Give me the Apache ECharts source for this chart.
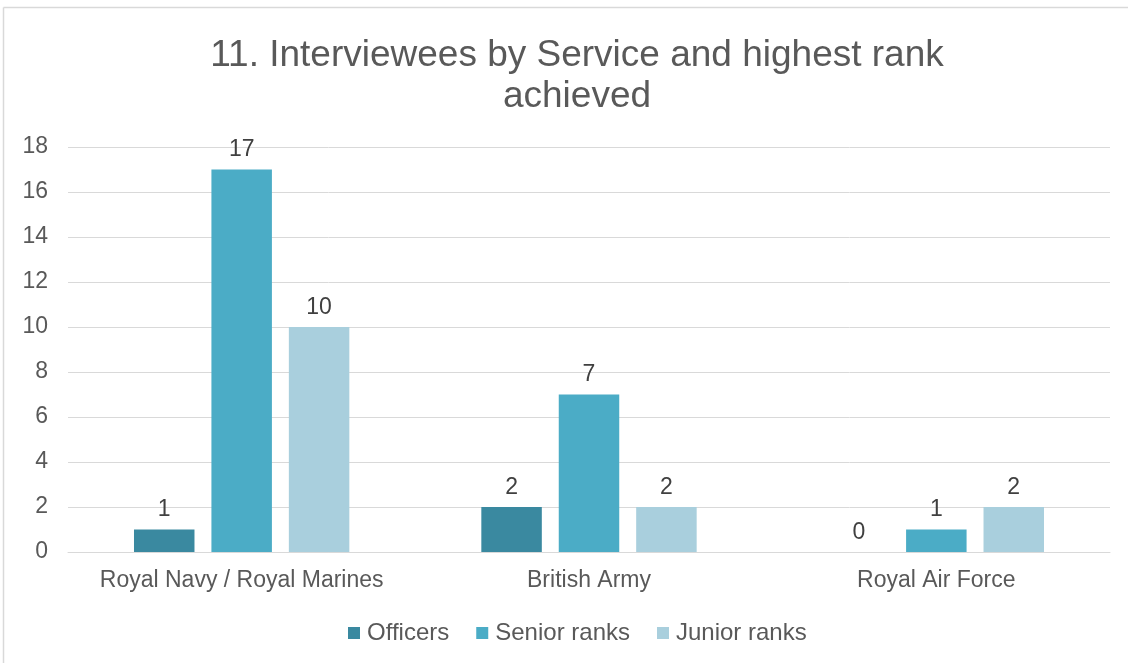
<!DOCTYPE html>
<html><head><meta charset="utf-8">
<script src="https://cdn.jsdelivr.net/npm/echarts@6/dist/echarts.min.js"></script>
<style>html,body{margin:0;padding:0;background:#fff}#c{width:1128px;height:663px}</style>
</head><body><div id="c"></div>
<script>
const categories = ['Royal Navy / Royal Marines', 'British Army', 'Royal Air Force'];
const officers = [1, 2, 0];
const seniorRanks = [17, 7, 1];
const juniorRanks = [10, 2, 2];
const seriesNames = ['Officers', 'Senior ranks', 'Junior ranks'];
const colors = ['#3A89A0', '#4BACC6', '#A9CFDD'];
const chart = echarts.init(document.getElementById('c'));
const font = 'Liberation Sans, Arial, sans-serif';
const label = {show: true, position: 'top', distance: 8, color: '#404040', fontSize: 23, fontFamily: font};
chart.setOption({
  animation: false,
  color: colors,
  title: {
    text: '11. Interviewees by Service and highest rank\nachieved',
    left: 572, top: 30, textAlign: 'center',
    textStyle: {fontFamily: font, fontSize: 37, fontWeight: 'normal', color: '#595959', lineHeight: 41}
  },
  legend: {
    top: 616, left: 343, itemWidth: 12, itemHeight: 12, itemGap: 27,
    icon: 'rect',
    textStyle: {fontFamily: font, fontSize: 24, color: '#595959', padding: [0, 0, 0, 2]}
  },
  grid: {left: 68, right: 18, top: 147, bottom: 111, containLabel: false},
  xAxis: {
    type: 'category', data: categories,
    axisLine: {lineStyle: {color: '#D9D9D9', width: 1}},
    axisTick: {show: false},
    axisLabel: {color: '#595959', fontSize: 23, fontFamily: font, margin: 17, interval: 0}
  },
  yAxis: {
    type: 'value', min: 0, max: 18, interval: 2,
    axisLine: {show: false}, axisTick: {show: false},
    axisLabel: {color: '#595959', fontSize: 23, fontFamily: font, margin: 20},
    splitLine: {lineStyle: {color: '#D9D9D9', width: 1}}
  },
  graphic: [
    {type: 'line', shape: {x1: 3.5, y1: 7.5, x2: 3.5, y2: 663}, style: {stroke: '#D9D9D9', lineWidth: 1.5}},
    {type: 'line', shape: {x1: 3.5, y1: 7.5, x2: 1128, y2: 7.5}, style: {stroke: '#D9D9D9', lineWidth: 1.5}}
  ],
  series: [
    {name: seriesNames[0], type: 'bar', data: officers, barGap: '28%', barCategoryGap: '38%', label},
    {name: seriesNames[1], type: 'bar', data: seniorRanks, label},
    {name: seriesNames[2], type: 'bar', data: juniorRanks, label}
  ]
});
</script></body></html>
